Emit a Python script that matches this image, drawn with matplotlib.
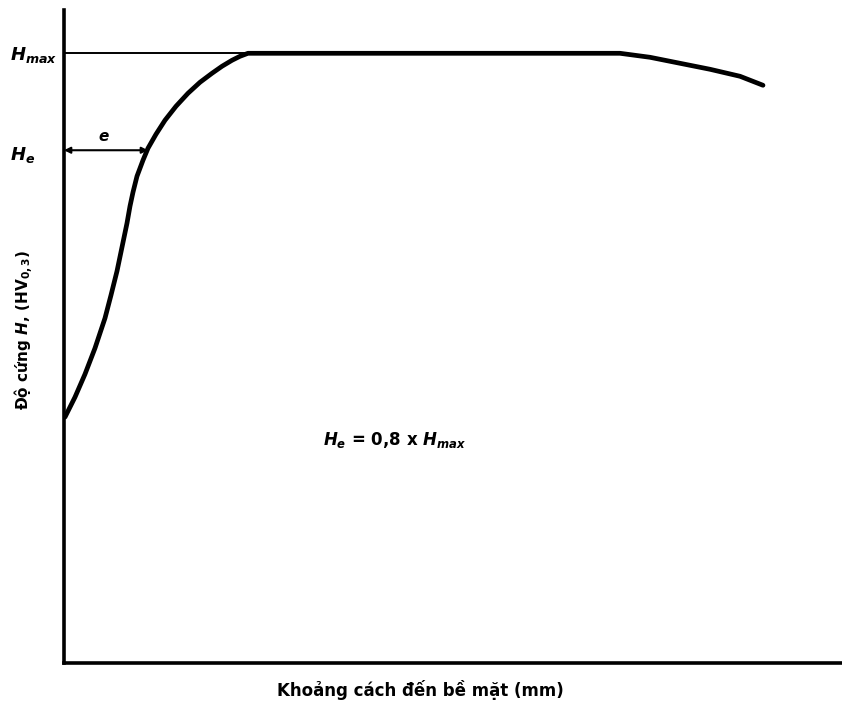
import matplotlib
matplotlib.use("Agg")
import matplotlib.pyplot as plt

plt.rcParams.update({"font.family": "DejaVu Sans", "mathtext.fontset": "custom",
                     "mathtext.it": "DejaVu Sans:bold:italic",
                     "mathtext.rm": "DejaVu Sans:bold",
                     "mathtext.bf": "DejaVu Sans:bold"})

# curve (distance, hardness) in arbitrary units
dist = [1, 11, 21, 31, 41, 47, 53, 58, 63, 66, 69, 73, 79, 84, 92, 101, 112,
        124, 136, 148, 158, 168, 176, 184,
        556, 586, 616, 646, 676, 699]
hard = [246, 266, 289, 315, 345, 368, 392, 416, 440, 457, 471, 487, 503, 515,
        529, 543, 557, 570, 581, 590, 597, 603, 607, 610,
        610, 606, 600, 594, 587, 578]
H_MAX = 610
H_E = 513
E_X = 84

fig = plt.figure(figsize=(8.42, 7.11), dpi=100)
ax = fig.add_axes([0.076, 0.0675, 0.924, 0.918])
ax.plot(dist, hard, color="black", lw=3.4, solid_capstyle="round",
        solid_joinstyle="round")
ax.plot([0, dist[23]], [H_MAX, H_MAX], color="black", lw=1.4)
ax.annotate("", xy=(0, H_E), xytext=(E_X, H_E),
            arrowprops=dict(arrowstyle="<|-|>", color="black", lw=1.5,
                            mutation_scale=9, shrinkA=0, shrinkB=0))
ax.text(E_X / 2 - 2, H_E + 6, "$e$", ha="center", va="bottom", fontsize=11)

ax.set_xlim(0, 778)
ax.set_ylim(0, 653)
ax.set_xticks([])
ax.set_yticks([])
for s in ("top", "right"):
    ax.spines[s].set_visible(False)
for s in ("left", "bottom"):
    ax.spines[s].set_linewidth(2.6)

fig.text(10 / 842, 1 - 55 / 711, "$H_{max}$", fontsize=13, ha="left", va="center")
fig.text(10 / 842, 1 - 155 / 711, "$H_{e}$", fontsize=13, ha="left", va="center")
ax.text(331, 223, "$H_{e}$ = 0,8 x $H_{max}$", fontsize=12, ha="center", va="center",
        fontweight="bold")
fig.text(24 / 842, 1 - 330 / 711, "Độ cứng $H$, (HV$_{0,3}$)", rotation=90,
         fontsize=11, fontweight="bold", ha="center", va="center")
fig.text(420 / 842, 1 - 690 / 711, "Khoảng cách đến bề mặt (mm)", fontsize=12,
         fontweight="bold", ha="center", va="center")

fig.savefig("out.png", dpi=100, facecolor="white")
